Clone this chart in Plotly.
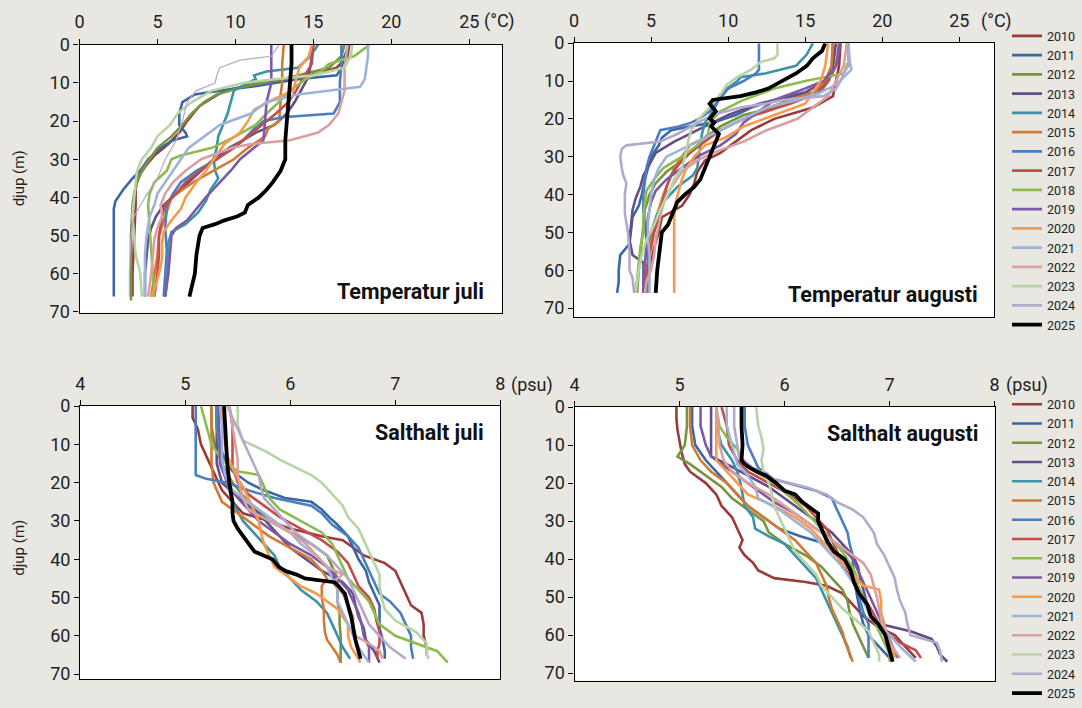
import plotly.graph_objects as go

YEARS = ["2010", "2011", "2012", "2013", "2014", "2015", "2016", "2017",
         "2018", "2019", "2020", "2021", "2022", "2023", "2024", "2025"]

# ---------------- Temperatur juli (depth m, °C) ----------------
TJ_2010 = [(0,17.3),(3,17.2),(6,16.5),(9,13.9),(10,11.5),(12,9.3),(14,8.5),(16,7.7),(18,7.3),(20,6.9),(23,6.4),(26,5.7),(29,4.8),(32,4.2),(35,3.7),(38,3.6),(42,3.6),(50,3.5),(60,3.4),(66,3.4)]
TJ_2011 = [(0,17.3),(3,17.0),(6,16.8),(8,16.5),(9,14.0),(11,11.0),(12,9.0),(13,7.4),(15,6.6),(18,6.4),(21,6.4),(23,6.8),(24,6.9),(25,6.0),(27,5.2),(30,4.4),(33,3.9),(35,3.4),(38,2.8),(41,2.3),(43,2.2),(50,2.2),(60,2.2),(66,2.2)]
TJ_2012 = [(0,17.0),(3,16.8),(6,16.0),(9,13.0),(11,10.5),(13,8.8),(15,8.0),(18,7.2),(21,6.6),(24,5.9),(27,5.0),(30,4.5),(33,4.0),(36,3.7),(39,3.5),(42,3.4),(50,3.3),(60,3.3),(67,3.3)]
TJ_2013 = [(0,15.0),(3,14.9),(6,14.8),(9,14.6),(12,14.2),(15,13.8),(18,13.3),(21,12.5),(23,11.3),(25,10.5),(27,9.6),(30,8.6),(33,7.8),(36,7.0),(39,6.2),(42,5.4),(45,4.9),(48,4.6),(51,4.4),(55,4.3),(60,4.2),(66,4.2)]
TJ_2014 = [(0,15.3),(3,14.8),(6,14.0),(7,12.0),(8,11.2),(9,11.3),(10,10.8),(12,9.9),(15,9.7),(18,9.5),(21,9.2),(24,8.9),(27,8.8),(30,8.6),(33,8.7),(35,8.9),(38,8.4),(41,8.1),(44,7.6),(47,6.8),(49,5.9),(52,5.7),(57,5.7),(62,5.6),(66,5.5)]
TJ_2015 = [(0,13.1),(5,13.0),(10,13.0),(13,12.9),(15,12.9),(20,12.8),(22,12.1),(24,11.9),(27,10.8),(30,9.9),(33,8.6),(36,7.3),(40,5.9),(45,5.5),(50,5.1),(55,5.0),(60,4.8),(66,4.6)]
TJ_2016 = [(0,16.8),(5,16.8),(10,16.7),(15,16.7),(18,16.3),(19,13.0),(20,11.8),(22,11.2),(25,10.5),(28,9.5),(30,8.8),(33,7.5),(36,6.5),(39,6.0),(42,5.6),(48,5.5),(54,5.6),(60,5.5),(66,5.4)]
TJ_2017 = [(0,15.0),(5,14.9),(9,14.3),(12,13.9),(15,13.4),(18,12.6),(21,11.7),(24,10.8),(27,9.9),(30,8.8),(33,7.7),(36,6.8),(39,6.2),(42,5.5),(45,5.3),(50,5.1),(55,5.1),(60,5.0),(66,4.8)]
TJ_2018 = [(0,18.6),(3,17.6),(5,16.0),(7,15.5),(9,14.5),(12,13.5),(15,12.8),(18,12.0),(21,11.3),(24,10.0),(27,8.5),(29,6.5),(30,5.9),(33,5.6),(36,4.8),(39,4.5),(42,4.4),(48,4.5),(54,4.6),(60,4.7),(66,4.8)]
TJ_2019 = [(0,12.3),(5,12.3),(10,12.3),(15,12.0),(20,11.9),(25,11.8),(27,11.2),(30,10.3),(33,9.7),(36,9.0),(40,8.1),(43,7.5),(46,6.9),(48,6.2),(50,5.9),(55,5.8),(60,5.7),(66,5.5)]
TJ_2020 = [(0,14.9),(3,14.7),(6,14.1),(9,13.9),(12,13.7),(14,12.6),(17,11.2),(20,10.8),(23,10.3),(26,9.3),(30,8.6),(33,8.1),(36,7.5),(40,6.8),(43,6.5),(46,5.9),(49,5.4),(52,5.3),(56,5.3),(60,5.1),(63,4.9),(66,4.6)]
TJ_2021 = [(0,18.5),(3,18.5),(6,18.4),(9,18.3),(11,18.0),(12,16.0),(13,14.0),(15,12.0),(18,11.0),(21,9.0),(24,8.0),(27,7.0),(30,6.5),(33,6.0),(36,5.5),(39,5.0),(42,4.8),(45,4.5),(50,4.3),(55,4.2),(60,4.2),(66,4.2)]
TJ_2022 = [(0,17.2),(3,17.1),(6,17.0),(9,17.0),(12,17.0),(15,16.8),(18,16.6),(21,16.0),(23,15.3),(25,13.5),(26,11.0),(27,9.8),(30,7.8),(33,6.8),(36,6.0),(39,5.5),(42,5.2),(45,5.3),(48,5.0),(51,4.8),(55,4.7),(60,4.6),(66,4.4)]
TJ_2023 = [(0,17.5),(3,17.4),(6,17.0),(8,15.0),(9,12.5),(10,10.5),(12,8.5),(15,7.2),(18,6.3),(21,5.8),(24,5.0),(27,4.6),(30,4.0),(33,3.7),(36,3.6),(40,3.5),(45,3.4),(50,3.5),(55,3.6),(60,3.9),(66,4.0)]
TJ_2024 = [(0,12.8),(3,12.3),(4,10.3),(6,9.0),(8,8.8),(10,8.7),(12,7.5),(15,6.9),(20,6.6),(25,6.2),(30,5.5),(35,5.0),(40,4.2),(45,3.5),(50,3.3),(60,3.2),(66,3.2)]
TJ_2025 = [(0,13.6),(5,13.6),(10,13.5),(15,13.4),(20,13.3),(25,13.2),(30,13.2),(33,12.9),(36,12.4),(38,12.0),(40,11.5),(42,10.8),(44,10.6),(45,10.1),(46,9.3),(47,8.7),(48,7.9),(50,7.7),(55,7.5),(60,7.4),(66,7.05)]

# ---------------- Temperatur augusti ----------------
TA_2010 = [(0,17.3),(6,17.2),(10,17.0),(14,16.8),(17,15.5),(20,13.0),(23,11.5),(26,10.5),(29,9.5),(31,8.5),(34,8.0),(37,7.8),(40,7.5),(43,7.0),(46,5.7),(50,5.5),(54,5.2),(58,5.0),(62,4.8),(66,4.6)]
TA_2011 = [(0,16.8),(5,16.8),(10,16.5),(13,15.5),(15,13.0),(17,11.5),(19,10.5),(21,9.0),(22,7.5),(23,6.3),(25,5.7),(27,5.5),(30,5.0),(33,4.8),(36,4.6),(40,4.4),(43,4.2),(46,3.8),(50,3.7),(53,3.6),(56,3.0),(60,2.9),(63,2.9),(66,2.8)]
TA_2012 = [(0,16.8),(6,16.8),(10,16.5),(13,16.0),(16,14.0),(19,11.0),(22,9.5),(25,8.5),(28,7.8),(31,7.0),(34,6.0),(37,5.3),(40,4.9),(44,4.6),(48,4.5),(52,4.4),(56,4.3),(60,4.2),(66,4.1)]
TA_2013 = [(0,17.0),(6,16.8),(10,16.3),(13,15.0),(16,12.0),(19,10.0),(22,8.5),(24,7.5),(26,6.5),(29,5.3),(32,4.9),(35,4.5),(38,4.3),(41,4.0),(44,3.8),(48,3.7),(52,3.6),(56,3.8),(58,4.5),(60,4.5),(63,4.5),(66,4.5)]
TA_2014 = [(0,15.5),(3,15.1),(6,14.4),(8,12.4),(9,10.8),(10,10.6),(12,9.9),(15,9.4),(18,9.0),(21,8.5),(24,8.3),(27,8.2),(30,8.1),(33,8.0),(35,7.7),(38,6.7),(42,5.8),(45,5.4),(50,5.0),(55,4.7),(60,4.5),(66,4.5)]
TA_2015 = [(0,16.8),(6,16.7),(10,16.3),(13,15.5),(15,14.0),(18,12.0),(21,10.5),(24,9.0),(27,7.5),(30,7.0),(33,6.5),(36,6.2),(40,5.8),(44,5.5),(48,5.3),(52,5.0),(56,4.9),(60,4.8),(63,4.7),(66,4.7)]
TA_2016 = [(0,12.0),(3,12.0),(7,12.0),(8,11.8),(10,11.0),(12,10.0),(15,9.4),(18,8.8),(20,8.1),(21,7.6),(22,6.8),(23,5.6),(26,5.3),(30,4.9),(33,4.7),(36,4.6),(40,4.5),(44,4.5),(48,4.6),(52,4.7),(56,4.8),(60,4.8),(66,4.8)]
TA_2017 = [(0,17.2),(6,17.0),(10,16.5),(13,15.8),(16,14.0),(18,12.5),(20,11.0),(23,9.5),(26,8.5),(29,7.5),(32,6.8),(35,6.3),(38,6.0),(42,5.8),(46,5.5),(50,5.2),(54,5.0),(58,4.8),(62,4.6),(66,4.5)]
TA_2018 = [(0,17.8),(5,17.8),(8,17.5),(10,15.0),(12,13.0),(15,11.0),(18,9.5),(21,8.8),(24,8.7),(27,8.0),(30,7.0),(33,5.8),(36,5.2),(39,4.7),(42,4.6),(46,4.5),(50,4.5),(54,4.3),(58,4.2),(62,4.1),(66,4.0)]
TA_2019 = [(0,17.3),(6,17.0),(10,16.2),(12,15.0),(15,13.0),(18,12.0),(21,11.0),(24,10.5),(27,9.5),(30,8.0),(33,7.0),(36,6.0),(39,5.3),(42,5.0),(46,4.8),(50,4.7),(54,4.7),(58,4.6),(62,4.5),(66,4.5)]
TA_2020 = [(0,16.5),(6,16.3),(10,16.0),(13,15.5),(16,15.0),(19,13.0),(22,11.0),(25,9.8),(27,8.5),(30,7.8),(33,7.3),(36,7.0),(39,6.8),(42,6.6),(46,6.5),(48,6.5),(56,6.5),(66,6.5)]
TA_2021 = [(0,17.8),(5,17.9),(7,18.0),(9,17.5),(11,17.0),(13,16.0),(15,14.5),(17,12.5),(20,11.0),(23,9.5),(25,8.5),(28,7.0),(30,6.0),(33,5.5),(36,5.2),(40,5.0),(44,4.9),(48,4.8),(52,4.8),(56,4.9),(60,4.9),(66,4.9)]
TA_2022 = [(0,17.7),(6,17.5),(10,17.0),(14,16.5),(17,15.5),(20,14.5),(23,12.5),(26,11.0),(29,9.0),(31,8.0),(34,7.0),(37,6.5),(40,6.0),(44,5.7),(48,5.5),(52,5.3),(56,5.2),(60,5.0),(63,4.7),(66,4.6)]
TA_2023 = [(0,13.2),(3,13.2),(4,13.0),(5,12.1),(7,11.5),(9,10.6),(11,9.9),(13,9.6),(15,9.2),(17,8.8),(20,8.1),(23,7.6),(26,7.4),(30,7.2),(33,7.0),(36,6.5),(40,6.1),(44,5.6),(48,5.2),(52,4.7),(56,4.4),(60,4.2),(66,4.0)]
TA_2024 = [(0,17.8),(3,17.8),(6,17.8),(8,17.5),(10,17.3),(12,17.0),(14,16.2),(15,13.5),(16,12.4),(17,10.8),(18,9.9),(19,9.0),(20,8.5),(22,7.6),(24,6.7),(26,5.6),(27,3.4),(28,3.1),(30,3.0),(33,3.1),(35,3.2),(37,3.4),(40,3.3),(45,3.3),(50,3.5),(55,3.6),(58,3.6),(60,3.6),(62,3.8),(66,3.9)]
TA_2025 = [(0,16.3),(2,16.1),(4,15.5),(6,15.1),(8,14.4),(10,13.5),(12,12.6),(13,11.8),(14,10.8),(15,9.0),(16,8.8),(18,9.2),(20,8.8),(21,9.1),(22,8.9),(24,9.4),(27,9.1),(30,8.8),(33,8.5),(36,8.2),(38,7.8),(40,7.2),(42,6.7),(45,6.4),(48,6.1),(50,5.7),(53,5.6),(56,5.5),(60,5.4),(66,5.3)]

# ---------------- Salthalt juli (depth m, psu) ----------------
SJ_2010 = [(0,5.07),(3,5.07),(6,5.12),(10,5.15),(13,5.2),(16,5.25),(19,5.3),(22,5.35),(25,5.45),(28,5.55),(30,5.8),(32,6.0),(34,6.3),(35,6.5),(37,6.6),(39,6.7),(41,6.9),(43,7.0),(46,7.05),(49,7.1),(52,7.15),(54,7.25),(57,7.27),(60,7.27),(63,7.3),(65,7.3)]
SJ_2011 = [(0,5.3),(5,5.3),(10,5.32),(14,5.38),(17,5.45),(20,5.6),(22,5.75),(24,5.95),(25,6.2),(27,6.3),(29,6.37),(31,6.45),(34,6.55),(37,6.6),(40,6.65),(43,6.72),(46,6.75),(49,6.8),(52,6.85),(55,6.85),(58,6.85),(61,6.88),(64,6.9),(66,6.9)]
SJ_2012 = [(0,5.25),(5,5.25),(10,5.28),(15,5.35),(20,5.45),(25,5.6),(30,5.8),(33,6.0),(36,6.2),(39,6.35),(42,6.4),(45,6.45),(48,6.45),(51,6.45),(54,6.47),(57,6.47),(60,6.48),(63,6.48),(67,6.48)]
SJ_2013 = [(0,5.3),(5,5.3),(10,5.3),(15,5.3),(20,5.35),(25,5.55),(28,5.7),(31,5.8),(34,5.9),(37,6.0),(40,6.15),(43,6.3),(46,6.5),(49,6.6),(52,6.62),(55,6.65),(58,6.7),(61,6.72),(64,6.8),(67,6.85)]
SJ_2014 = [(0,5.3),(5,5.3),(10,5.32),(15,5.35),(20,5.4),(25,5.45),(30,5.55),(33,5.65),(36,5.75),(39,5.85),(42,5.9),(45,6.0),(48,6.1),(51,6.25),(54,6.35),(57,6.4),(60,6.45),(63,6.5),(66,6.57)]
SJ_2015 = [(0,5.25),(5,5.25),(10,5.25),(15,5.25),(20,5.27),(22,5.3),(25,5.35),(28,5.5),(31,5.65),(34,5.8),(37,6.0),(40,6.2),(43,6.3),(45,6.35),(47,6.3),(50,6.3),(53,6.32),(56,6.32),(59,6.33),(61,6.35),(63,6.4),(65,6.45),(67,6.48)]
SJ_2016 = [(0,5.1),(5,5.1),(10,5.1),(15,5.1),(18,5.1),(19,5.2),(20,5.4),(22,5.6),(24,5.85),(26,6.2),(28,6.3),(31,6.4),(34,6.55),(37,6.65),(40,6.7),(43,6.75),(46,6.8),(49,6.85),(51,6.95),(54,7.05),(57,7.1),(60,7.15),(63,7.15),(66,7.17)]
SJ_2017 = [(0,5.42),(5,5.45),(10,5.45),(13,5.45),(16,5.45),(20,5.5),(23,5.6),(26,5.75),(29,5.9),(32,6.1),(35,6.3),(38,6.45),(41,6.55),(44,6.6),(47,6.65),(50,6.75),(53,6.8),(56,6.82),(59,6.85),(62,6.85),(64,6.83),(66,6.83)]
SJ_2018 = [(0,5.15),(5,5.2),(10,5.25),(14,5.35),(17,5.5),(18,5.7),(21,5.75),(24,5.8),(27,5.9),(30,6.1),(33,6.3),(36,6.4),(39,6.45),(42,6.5),(45,6.55),(48,6.65),(51,6.75),(54,6.8),(57,6.85),(60,7.0),(62,7.2),(64,7.4),(67,7.5)]
SJ_2019 = [(0,5.32),(5,5.32),(10,5.33),(15,5.33),(20,5.4),(24,5.5),(27,5.6),(30,5.7),(33,5.85),(36,6.0),(39,6.2),(42,6.35),(45,6.45),(48,6.55),(51,6.6),(54,6.65),(57,6.68),(60,6.7),(63,6.75),(67,6.75)]
SJ_2020 = [(0,5.35),(5,5.36),(10,5.38),(13,5.4),(16,5.45),(19,5.5),(21,5.55),(24,5.6),(27,5.65),(30,5.7),(33,5.72),(36,5.75),(39,5.8),(42,5.85),(45,6.0),(47,6.1),(49,6.25),(51,6.35),(53,6.45),(55,6.5),(57,6.55),(60,6.55),(63,6.58),(67,6.67)]
SJ_2021 = [(0,5.33),(5,5.35),(10,5.35),(14,5.35),(18,5.38),(22,5.45),(26,5.65),(30,5.85),(33,6.0),(36,6.1),(39,6.25),(42,6.35),(45,6.4),(48,6.45),(51,6.45),(54,6.5),(57,6.55),(60,6.6),(63,6.65),(67,6.75)]
SJ_2022 = [(0,5.42),(5,5.45),(10,5.48),(14,5.5),(18,5.5),(21,5.52),(24,5.55),(27,5.6),(30,5.8),(33,6.0),(36,6.15),(39,6.25),(42,6.35),(44,6.5),(46,6.4),(49,6.5),(52,6.55),(55,6.6),(58,6.6),(60,6.62),(62,6.75),(64,6.85),(66,6.88)]
SJ_2023 = [(0,5.5),(5,5.5),(9,5.55),(11,5.7),(12,5.78),(14,5.9),(16,6.05),(18,6.2),(20,6.3),(23,6.4),(26,6.5),(29,6.55),(32,6.65),(35,6.7),(38,6.75),(41,6.8),(44,6.85),(47,6.85),(50,6.87),(53,6.9),(56,7.0),(59,7.2),(62,7.3),(65,7.3),(66,7.32)]
SJ_2024 = [(0,5.4),(3,5.45),(6,5.5),(9,5.55),(12,5.6),(15,5.65),(18,5.7),(21,5.72),(24,5.75),(27,5.85),(30,5.95),(33,6.05),(36,6.2),(39,6.35),(42,6.45),(45,6.55),(48,6.6),(51,6.65),(54,6.7),(57,6.75),(60,6.85),(63,6.95),(66,7.1)]
SJ_2025 = [(0,5.37),(5,5.38),(10,5.39),(15,5.4),(20,5.42),(25,5.45),(28,5.45),(30,5.46),(32,5.5),(34,5.55),(36,5.6),(38,5.66),(40,5.83),(42,5.89),(43,5.95),(44,6.06),(45,6.14),(46,6.42),(47,6.46),(49,6.52),(52,6.55),(55,6.58),(58,6.6),(61,6.62),(64,6.65),(66,6.67)]

# ---------------- Salthalt augusti ----------------
SA_2010 = [(0,4.97),(3,4.97),(6,4.98),(9,5.0),(12,5.02),(15,5.05),(17,5.1),(20,5.25),(23,5.35),(26,5.4),(29,5.5),(32,5.55),(35,5.6),(37,5.57),(39,5.62),(41,5.7),(43,5.75),(45,5.9),(46,6.2),(47,6.4),(49,6.55),(52,6.65),(55,6.75),(58,6.9),(60,7.05),(63,7.15),(66,7.25)]
SA_2011 = [(0,5.12),(5,5.12),(10,5.15),(14,5.25),(17,5.35),(20,5.45),(23,5.55),(26,5.65),(29,5.8),(32,5.95),(34,6.15),(36,6.4),(39,6.5),(42,6.55),(45,6.65),(48,6.68),(51,6.7),(54,6.72),(57,6.75),(60,6.8),(63,6.9),(66,7.0)]
SA_2012 = [(0,5.07),(5,5.07),(10,5.05),(13,4.98),(15,5.1),(18,5.25),(21,5.4),(24,5.5),(27,5.65),(30,5.8),(33,5.85),(36,6.0),(39,6.2),(42,6.35),(45,6.45),(48,6.55),(51,6.6),(54,6.62),(57,6.65),(60,6.7),(63,6.75),(66,6.8)]
SA_2013 = [(0,5.3),(5,5.3),(10,5.3),(13,5.3),(15,5.45),(18,5.65),(21,5.85),(24,6.0),(27,6.15),(30,6.3),(33,6.45),(36,6.55),(39,6.65),(42,6.7),(45,6.72),(48,6.75),(51,6.78),(54,6.8),(57,6.9),(59,7.2),(61,7.4),(63,7.45),(65,7.48),(67,7.55)]
SA_2014 = [(0,5.35),(5,5.35),(10,5.4),(14,5.5),(17,5.55),(20,5.58),(23,5.6),(26,5.62),(29,5.7),(32,5.72),(34,5.85),(36,6.0),(39,6.1),(42,6.2),(45,6.3),(48,6.35),(51,6.4),(54,6.45),(57,6.5),(60,6.55),(63,6.6),(66,6.63)]
SA_2015 = [(0,5.1),(5,5.1),(10,5.12),(14,5.2),(17,5.3),(20,5.45),(23,5.55),(26,5.65),(29,5.8),(32,5.95),(35,6.1),(38,6.2),(41,6.3),(44,6.35),(47,6.4),(50,6.42),(53,6.45),(56,6.5),(59,6.55),(62,6.58),(65,6.62),(67,6.65)]
SA_2016 = [(0,5.62),(5,5.62),(10,5.65),(13,5.7),(16,5.75),(19,5.9),(22,6.3),(24,6.45),(27,6.5),(30,6.55),(33,6.6),(36,6.62),(39,6.65),(42,6.65),(45,6.68),(48,6.7),(51,6.72),(54,6.75),(57,6.8),(60,6.8),(63,6.8),(66,6.8)]
SA_2017 = [(0,5.4),(5,5.45),(10,5.47),(14,5.55),(17,5.65),(20,5.85),(23,6.05),(26,6.2),(29,6.3),(32,6.4),(35,6.45),(38,6.5),(41,6.55),(44,6.62),(47,6.68),(50,6.75),(53,6.82),(56,6.88),(59,6.95),(62,7.1),(64,7.25),(66,7.3)]
SA_2018 = [(0,5.35),(5,5.38),(8,5.45),(11,5.55),(14,5.58),(17,5.72),(20,5.9),(23,6.03),(26,6.15),(29,6.25),(32,6.35),(35,6.45),(38,6.55),(41,6.62),(44,6.68),(47,6.7),(50,6.75),(53,6.8),(56,6.85),(59,6.9),(62,6.95),(65,7.0),(67,7.0)]
SA_2019 = [(0,5.2),(5,5.2),(10,5.25),(13,5.3),(16,5.45),(19,5.6),(22,5.75),(25,5.9),(28,6.1),(31,6.25),(34,6.4),(37,6.55),(40,6.65),(43,6.7),(46,6.75),(49,6.8),(52,6.85),(55,6.9),(58,6.95),(61,7.0),(64,7.05),(66,7.08)]
SA_2020 = [(0,5.35),(5,5.35),(10,5.35),(14,5.35),(17,5.45),(20,5.55),(23,5.65),(26,5.9),(29,6.1),(32,6.25),(35,6.35),(38,6.45),(41,6.55),(44,6.65),(47,6.75),(48,6.9),(51,6.92),(54,6.92),(57,6.95),(60,6.97),(63,7.02),(66,7.05)]
SA_2021 = [(0,5.45),(5,5.45),(10,5.5),(15,5.55),(18,5.65),(21,5.72),(24,5.75),(27,5.95),(30,6.1),(33,6.25),(36,6.35),(39,6.45),(42,6.55),(45,6.62),(48,6.7),(51,6.75),(54,6.8),(57,6.9),(60,7.0),(63,7.1),(67,7.25)]
SA_2022 = [(0,5.35),(5,5.37),(10,5.38),(14,5.42),(17,5.5),(20,5.65),(23,5.85),(26,6.0),(29,6.15),(32,6.3),(35,6.45),(38,6.6),(41,6.75),(44,6.82),(47,6.85),(50,6.88),(53,6.9),(56,6.92),(59,6.95),(62,7.0),(64,7.05),(66,7.1)]
SA_2023 = [(0,5.73),(5,5.75),(8,5.78),(11,5.8),(14,5.78),(17,5.8),(20,5.85),(23,5.88),(26,5.9),(29,5.95),(32,6.0),(35,6.05),(38,6.1),(41,6.2),(44,6.3),(47,6.35),(50,6.45),(53,6.55),(56,6.68),(59,6.8),(62,6.85),(65,6.9),(67,6.9)]
SA_2024 = [(0,5.52),(5,5.52),(10,5.55),(13,5.57),(16,5.7),(19,5.9),(21,6.2),(23,6.4),(25,6.5),(27,6.65),(29,6.75),(31,6.8),(33,6.85),(36,6.88),(39,6.95),(42,7.0),(45,7.05),(48,7.07),(51,7.1),(54,7.15),(57,7.17),(60,7.2),(62,7.45),(64,7.48),(67,7.5)]
SA_2025 = [(0,5.59),(5,5.59),(10,5.6),(14,5.59),(15,5.62),(16,5.67),(17,5.74),(18,5.82),(20,5.92),(22,6.0),(23,6.1),(25,6.17),(27,6.27),(28,6.32),(30,6.32),(32,6.35),(35,6.4),(38,6.47),(40,6.57),(43,6.63),(46,6.66),(49,6.71),(52,6.79),(55,6.82),(57,6.89),(60,6.96),(63,6.99),(66,7.02),(67,7.03)]

COLORS = ["#9b3b39", "#3c67a3", "#77953f", "#634f87", "#3a93a8", "#d17a34",
          "#4a7ec2", "#c24d4a", "#8cbb4e", "#7c5aa6", "#f79a4a", "#9db3d9",
          "#d8a09f", "#b8d4a4", "#b3a9cc", "#000000"]

g = globals()
PANELS = [
    ("TJ", "x", "y", None),
    ("TA", "x2", "y2", "legend"),
    ("SJ", "x3", "y3", None),
    ("SA", "x4", "y4", "legend2"),
]

BG = "#e8e7e2"
FONT = "Roboto"

fig = go.Figure()
for prefix, xa, ya, leg in PANELS:
    for i, yr in enumerate(YEARS):
        pts = g[f"{prefix}_{yr}"]
        vals = [p[1] for p in pts]
        deps = [p[0] for p in pts]
        w = 3.8 if yr == "2025" else 2.6
        if prefix == "TJ" and yr == "2024":
            w = 1.2
        fig.add_trace(go.Scatter(
            x=vals, y=deps, mode="lines", name=yr,
            line=dict(color=COLORS[i], width=w),
            xaxis=xa, yaxis=ya,
            showlegend=leg is not None,
            legend=leg if leg else "legend",
            hoverinfo="skip",
        ))

W, H = 1082, 708

def px(v):
    return v / W

def py(v):
    return 1 - v / H

ax_common = dict(showline=True, linecolor="black", linewidth=1.3, mirror=True,
                 ticks="outside", ticklen=5, tickcolor="black", tickwidth=1.2,
                 showgrid=False, zeroline=False, fixedrange=True,
                 tickfont=dict(family=FONT, size=18, color="#222222"))
xax = dict(ax_common, side="top", ticklabelstandoff=3)
yax = dict(ax_common, tickvals=[0, 10, 20, 30, 40, 50, 60, 70])

fig.update_layout(
    width=W, height=H, autosize=False,
    margin=dict(l=0, r=0, t=0, b=0),
    paper_bgcolor=BG, plot_bgcolor="white",
    template="none",
    font=dict(family=FONT, color="#222222"),
    xaxis=dict(xax, domain=[px(79.5), px(501.7)], range=[0, 27.08],
               tickvals=[0, 5, 10, 15, 20, 25], anchor="y"),
    yaxis=dict(yax, domain=[py(321), py(46)], range=[70.25, 0], anchor="x"),
    xaxis2=dict(xax, domain=[px(574), px(994.3)], range=[0, 27.27],
                tickvals=[0, 5, 10, 15, 20, 25], anchor="y2"),
    yaxis2=dict(yax, domain=[py(325), py(44.3)], range=[72.3, 0], anchor="x2"),
    xaxis3=dict(xax, domain=[px(80.2), px(500.3)], range=[4, 8],
                tickvals=[4, 5, 6, 7, 8], anchor="y3"),
    yaxis3=dict(yax, domain=[py(696.7), py(416.7)], range=[71.27, 0], anchor="x3"),
    xaxis4=dict(xax, domain=[px(574.6), px(994.5)], range=[4, 8],
                tickvals=[4, 5, 6, 7, 8], anchor="y4"),
    yaxis4=dict(yax, domain=[py(698.3), py(417.7)], range=[71.95, 0], anchor="x4"),
    legend=dict(x=px(1007), xanchor="left", y=py(185), yanchor="middle",
                bgcolor="rgba(0,0,0,0)", font=dict(family=FONT, size=12.5, color="#222222"),
                itemclick=False, itemdoubleclick=False, tracegroupgap=0),
    legend2=dict(x=px(1007), xanchor="left", y=py(563), yanchor="middle",
                 bgcolor="rgba(0,0,0,0)", font=dict(family=FONT, size=12.5, color="#222222"),
                 itemclick=False, itemdoubleclick=False, tracegroupgap=0),
)

ann = []
# unit labels
for x0, y0, t in [(482, 22, "(°C)"), (979, 22, "(°C)"), (509, 395, "(psu)"), (1004, 395, "(psu)")]:
    ann.append(dict(text=t, x=px(x0), y=py(y0), xref="paper", yref="paper",
                    xanchor="left", yanchor="middle", showarrow=False,
                    font=dict(family=FONT, size=18, color="#222222")))
# y axis titles
for y0 in [183, 562]:
    ann.append(dict(text="djup (m)", x=px(19), y=py(y0), xref="paper", yref="paper",
                    xanchor="center", yanchor="middle", showarrow=False, textangle=-90,
                    font=dict(family=FONT, size=15, color="#222222")))
# panel titles
for x0, y0, t in [(486, 299, "Temperatur juli"), (980, 302, "Temperatur augusti"),
                  (486, 444, "Salthalt juli"), (980, 445, "Salthalt augusti")]:
    ann.append(dict(text=f"<b>{t}</b>", x=px(x0), y=py(y0), xref="paper", yref="paper",
                    xanchor="right", yanchor="middle", showarrow=False,
                    font=dict(family=FONT, size=21.5, color="#111111")))
fig.update_layout(annotations=ann)

fig.write_html("out.html", config={"displayModeBar": False},
               post_script="document.body.style.margin='0px';document.body.style.overflow='hidden';")
